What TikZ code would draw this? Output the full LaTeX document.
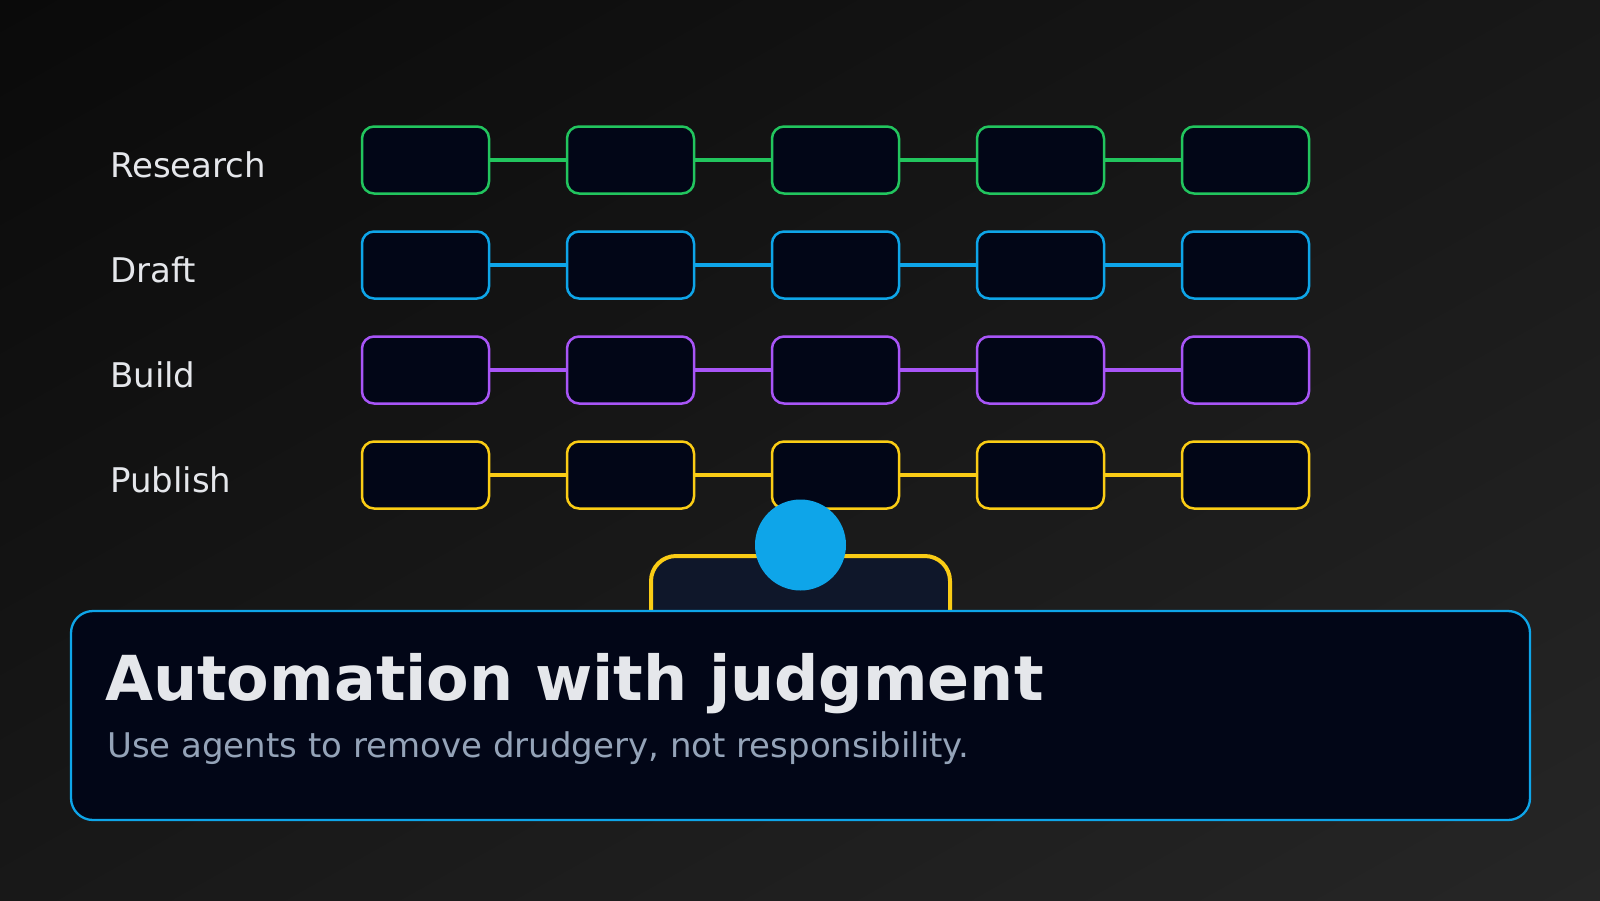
\documentclass[tikz,border=0pt]{standalone}
\usepackage{fontspec}
\setmainfont{DejaVu Sans}
\usetikzlibrary{positioning,shadings}
\definecolor{bgA}{HTML}{0A0A0A}
\definecolor{bgB}{HTML}{181818}
\definecolor{bgC}{HTML}{262626}
\definecolor{boxfill}{HTML}{020617}
\definecolor{slatefill}{HTML}{0F172A}
\definecolor{cgreen}{HTML}{22C55E}
\definecolor{cblue}{HTML}{0EA5E9}
\definecolor{cpurple}{HTML}{A855F7}
\definecolor{cyellow}{HTML}{FACC15}
\definecolor{txtmain}{HTML}{E5E7EB}
\definecolor{txtsub}{HTML}{94A3B8}
\tikzset{
  stagebox/.style={draw=#1, fill=boxfill, line width=2.5pt, rounded corners=12pt,
    minimum width=127pt, minimum height=67pt, inner sep=0pt},
  link/.style={draw=#1, line width=4pt},
  rowlabel/.style={anchor=base west, inner sep=0pt, text=txtmain,
    font=\fontsize{34}{40}\selectfont},
}
\begin{document}
\begin{tikzpicture}[x=1pt,y=-1pt]
\shade[upper left=bgA, upper right=bgB, lower left=bgB, lower right=bgC] (0,0) rectangle (1600,900);
\useasboundingbox (0,0) rectangle (1600,900);
% rows
\foreach \r/\lab/\col [count=\i] in {160/Research/cgreen, 265/Draft/cblue, 370/Build/cpurple, 475/Publish/cyellow}{
  \node[rowlabel] (lab\i) at (110,\r+17) {\lab};
  \foreach \c [count=\j] in {425.5,630.5,835.5,1040.5,1245.5}{
    \node[stagebox=\col] (b\i\j) at (\c,\r) {};
  }
  \foreach \j/\k in {1/2,2/3,3/4,4/5}{
    \draw[link=\col] (b\i\j.east) -- (b\i\k.west);
  }
}
% agent card and head
\draw[cyellow, fill=slatefill, line width=4pt, rounded corners=25pt] (651,720) rectangle (950,556);
\node[circle, fill=cblue, minimum size=91pt, inner sep=0pt] (head) at (800.5,545) {};
% panel
\node[draw=cblue, fill=boxfill, line width=2.3pt, rounded corners=22pt,
  minimum width=1459pt, minimum height=209pt, inner sep=0pt] (panel) at (800.5,715.5) {};
\node[anchor=base west, inner sep=0pt, text=txtmain, font=\fontsize{62}{70}\selectfont\bfseries] (title) at (105,700) {Automation with judgment};
\node[anchor=base west, inner sep=0pt, text=txtsub, font=\fontsize{34}{40}\selectfont] (sub) at (107,757) {Use agents to remove drudgery, not responsibility.};
\end{tikzpicture}
\end{document}
